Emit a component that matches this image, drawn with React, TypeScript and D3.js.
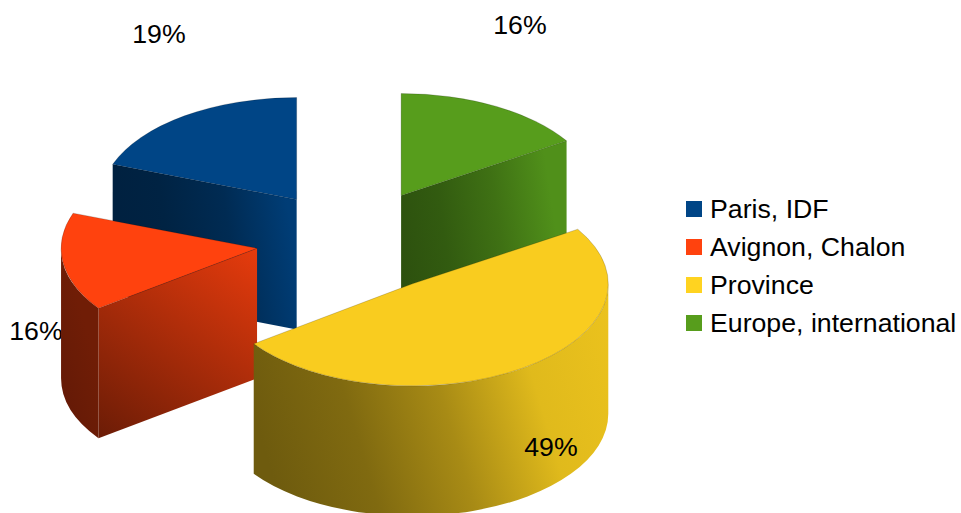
import React, { useMemo } from 'react';
import * as d3 from 'd3';

const categories = ['Paris, IDF', 'Avignon, Chalon', 'Province', 'Europe, international'];
const shares = [19.4, 15.6, 49, 16];
const colours = ['#004586', '#ff420e', '#ffd320', '#579d1c'];
const topColours = ['#004586', '#ff420e', '#f9cc1f', '#579d1c'];

const width = 961;
const height = 513;
const FONT = '"Liberation Sans", Arial, sans-serif';

// pie projection
const cx = 355;
const cy = 241;
const rx = 196;
const ry = 102;
const depth = 130;
const explode = 0.52;

// the original exploded slices are not quite symmetric
const nudges = [
  { x: 0, y: 2 },
  { x: 3, y: 0 },
  { x: 0, y: -1 },
  { x: -3, y: 1 },
];

// how the light runs over the flat wall of each slice
const wallLight = [
  { reach: 1, tilt: 0.15, stops: [0.47, 0.5, 0.62, 0.88] },
  { reach: 0.9, tilt: 1.4, stops: [0.42, 0.9] },
  { reach: 1, tilt: 0.3, stops: [0.43, 0.9] },
  { reach: 1, tilt: 0.15, stops: [0.5, 0.58, 0.72, 0.92] },
];

// hand placed like the original, 16% on the left sits behind the red slice
const labelPlaces = [
  { x: 159, y: 43, behind: false },
  { x: 36, y: 340, behind: true },
  { x: 551, y: 456, behind: false },
  { x: 520, y: 34, behind: false },
];

const TAU = Math.PI * 2;
const shade = (colour: string, k: number) => {
  const c = d3.rgb(colour);
  return d3.rgb(c.r * k, c.g * k, c.b * k).formatHex();
};

const App: React.FC = () => {
  const slices = useMemo(() => {
    // counter clockwise from 12 o'clock, in legend order
    const pie = d3.pie<number>().sort(null).startAngle(TAU).endAngle(0);
    return pie(shares).map((d, i) => {
      const a0 = Math.min(d.startAngle, d.endAngle);
      const a1 = Math.max(d.startAngle, d.endAngle);
      const mid = (a0 + a1) / 2;
      const ox = cx + Math.sin(mid) * rx * explode + nudges[i].x;
      const oy = cy - Math.cos(mid) * ry * explode + nudges[i].y;
      return { i, a0, a1, ox, oy };
    });
  }, []);

  const arc = d3.arc<any>().innerRadius(0).outerRadius(rx);
  const paintOrder = [0, 3, 1, 2];

  const rim = (s: { ox: number; oy: number }, a: number): [number, number] => [
    s.ox + Math.sin(a) * rx,
    s.oy - Math.cos(a) * ry,
  ];

  const gradients: React.ReactNode[] = [];
  const wallPaths = (s: (typeof slices)[number]) => {
    const out: React.ReactNode[] = [];
    const colour = colours[s.i];

    const addGradient = (
      id: string,
      x0: number,
      x1: number,
      y0: number,
      light: { reach: number; tilt: number; stops: number[] }
    ) => {
      const w = (x1 - x0) * light.reach;
      gradients.push(
        <linearGradient key={id} id={id} gradientUnits="userSpaceOnUse" x1={x0} y1={y0} x2={x0 + w} y2={y0 - w * light.tilt}>
          {light.stops.map((k, j) => (
            <stop key={j} offset={j / (light.stops.length - 1)} stopColor={shade(colour, k)} />
          ))}
        </linearGradient>
      );
    };

    // flat wall along the radius, only if it looks down at the viewer
    const radial = (a: number, key: string) => {
      const [px, py] = rim(s, a);
      const id = `wall-${s.i}-${key}`;
      const leftY = px < s.ox ? py : s.oy;
      addGradient(id, Math.min(px, s.ox), Math.max(px, s.ox), leftY + depth, wallLight[s.i]);
      out.push(
        <path
          key={id}
          d={`M${s.ox},${s.oy}L${px},${py}L${px},${py + depth}L${s.ox},${s.oy + depth}Z`}
          fill={`url(#${id})`}
        />
      );
    };
    if (Math.sin(s.a0) < -1e-6) radial(s.a0, 'start');
    if (Math.sin(s.a1) > 1e-6) radial(s.a1, 'end');

    // curved outer wall, front half of the ellipse only
    const from = Math.max(s.a0, Math.PI / 2);
    const to = Math.min(s.a1, Math.PI * 1.5);
    if (to > from) {
      const [x0, y0] = rim(s, from);
      const [x1, y1] = rim(s, to);
      const id = `rim-${s.i}`;
      const wide = Math.abs(x1 - x0) > rx;
      addGradient(
        id,
        Math.min(x0, x1),
        Math.max(x0, x1),
        s.oy + depth,
        wide
          ? { reach: 1, tilt: 0.3, stops: [0.43, 0.5, 0.66, 0.88, 0.92] }
          : { reach: 1, tilt: 0.3, stops: [0.4, 0.42, 0.44] }
      );
      out.push(
        <path
          key={id}
          d={`M${x0},${y0}A${rx},${ry} 0 0 1 ${x1},${y1}L${x1},${y1 + depth}A${rx},${ry} 0 0 0 ${x0},${y0 + depth}Z`}
          fill={`url(#${id})`}
        />
      );
    }
    return out;
  };

  const walls = slices.map((s) => wallPaths(s));

  const labelText = (i: number) => (
    <text
      key={`label-${i}`}
      x={labelPlaces[i].x}
      y={labelPlaces[i].y}
      textAnchor="middle"
      fontSize={26.7}
      fill="#000"
    >
      {Math.round(shares[i])}%
    </text>
  );

  return (
    <svg
      width={width}
      height={height}
      fontFamily={FONT}
      style={{ position: 'absolute', left: 0, top: 0, background: '#fff' }}
    >
      <defs>{gradients}</defs>

      {labelPlaces.map((p, i) => (p.behind ? labelText(i) : null))}

      {paintOrder.map((idx) => {
        const s = slices[idx];
        return (
          <g key={categories[idx]}>
            {walls[idx]}
            <path
              transform={`translate(${s.ox},${s.oy}) scale(1,${ry / rx})`}
              d={arc({ startAngle: s.a0, endAngle: s.a1 }) as string}
              fill={topColours[idx]}
              stroke="#000"
              strokeOpacity={0.22}
              strokeWidth={0.8}
              vectorEffect="non-scaling-stroke"
            />
          </g>
        );
      })}

      {labelPlaces.map((p, i) => (p.behind ? null : labelText(i)))}

      {/* Legend */}
      {categories.map((name, i) => (
        <g key={name} transform={`translate(686,${201 + i * 38})`}>
          <rect width={16} height={16} fill={colours[i]} />
          <text x={24} y={17} fontSize={26.7} fill="#000">
            {name}
          </text>
        </g>
      ))}
    </svg>
  );
};

export default App;
